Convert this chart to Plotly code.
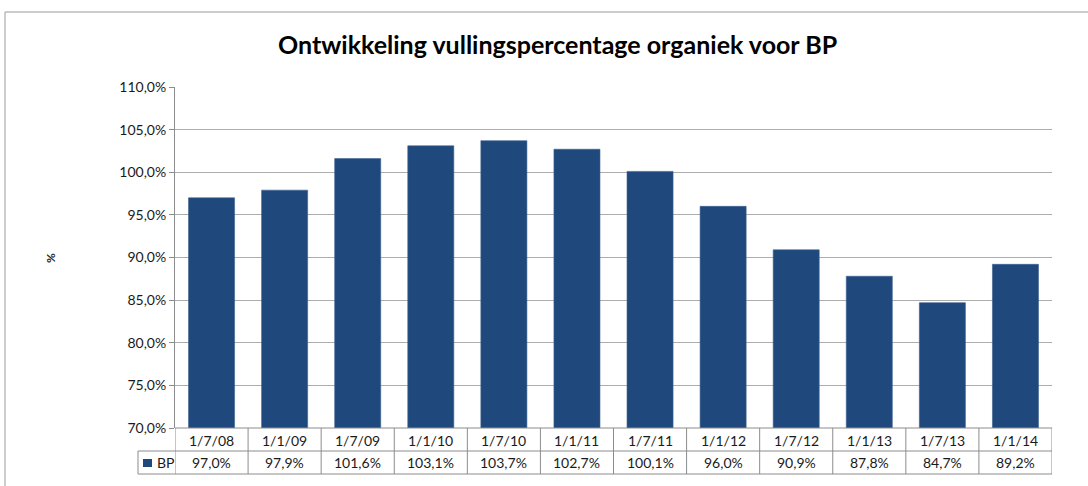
import plotly.graph_objects as go

categories = ["1/7/08", "1/1/09", "1/7/09", "1/1/10", "1/7/10", "1/1/11",
              "1/7/11", "1/1/12", "1/7/12", "1/1/13", "1/7/13", "1/1/14"]
bp_values = [97.0, 97.9, 101.6, 103.1, 103.7, 102.7, 100.1, 96.0, 90.9, 87.8, 84.7, 89.2]
series_name = "BP"
title_text = "Ontwikkeling vullingspercentage organiek voor BP"
y_title = "%"

FONT = "Lato"
BAR_COLOR = "#1F497D"
GRID = "#ADADAD"
BORDER = "#8C8C8C"
TXT = "#1a1a1a"

WIDTH, HEIGHT = 1088, 486
L, R, T, B = 175, 1052, 87, 428
PW, PH = R - L, B - T


def px(x):
    return (x - L) / PW


def py(y):
    return (B - y) / PH


fig = go.Figure()
fig.add_trace(go.Bar(
    x=categories, y=bp_values, name=series_name,
    marker=dict(color=BAR_COLOR, line=dict(color="#3A5F8E", width=0.6)),
    showlegend=False,
))

shapes = []
n = len(categories)
# outer chart border
shapes.append(dict(type="rect", xref="paper", yref="paper",
                   x0=px(5), x1=px(1095), y0=py(495), y1=py(12),
                   line=dict(color="#9A9A9A", width=1), fillcolor="rgba(0,0,0,0)", layer="below"))
# table horizontal lines
for yy, x_start in [(B, L), (451, 138), (474, 138)]:
    shapes.append(dict(type="line", xref="paper", yref="paper",
                       x0=px(x_start), x1=px(R), y0=py(yy), y1=py(yy),
                       line=dict(color=BORDER, width=1)))
# table vertical lines
for k in range(n + 1):
    shapes.append(dict(type="line", xref="x", yref="paper",
                       x0=k - 0.5, x1=k - 0.5, y0=py(B), y1=py(474),
                       line=dict(color=BORDER, width=1)))
shapes.append(dict(type="line", xref="paper", yref="paper",
                   x0=px(138), x1=px(138), y0=py(451), y1=py(474),
                   line=dict(color=BORDER, width=1)))
# legend key
shapes.append(dict(type="rect", xref="paper", yref="paper",
                   x0=px(143), x1=px(152), y0=py(467), y1=py(459),
                   fillcolor=BAR_COLOR, line=dict(width=0)))

annotations = []
for c, v in zip(categories, bp_values):
    annotations.append(dict(x=c, xref="x", y=py(440), yref="paper", text=c,
                            showarrow=False, font=dict(family=FONT, size=14, color=TXT),
                            xanchor="center", yanchor="middle"))
    annotations.append(dict(x=c, xref="x", y=py(463), yref="paper",
                            text=f"{v:.1f}%".replace(".", ","),
                            showarrow=False, font=dict(family=FONT, size=14, color=TXT),
                            xanchor="center", yanchor="middle"))
annotations.append(dict(x=px(155), xref="paper", y=py(463), yref="paper", text=series_name,
                        showarrow=False, font=dict(family=FONT, size=14, color=TXT),
                        xanchor="left", yanchor="middle"))
annotations.append(dict(x=px(50), xref="paper", y=py(258), yref="paper", text="<b>%s</b>" % y_title,
                        showarrow=False, textangle=-90, font=dict(family=FONT, size=12, color=TXT),
                        xanchor="center", yanchor="middle"))
annotations.append(dict(x=px(557), xref="paper", y=py(44), yref="paper", text="<b>%s</b>" % title_text,
                        showarrow=False, font=dict(family=FONT, size=25, color="#000000"),
                        xanchor="center", yanchor="middle"))

fig.update_layout(
    width=WIDTH, height=HEIGHT,
    margin=dict(l=L, r=WIDTH - R, t=T, b=HEIGHT - B),
    paper_bgcolor="white", plot_bgcolor="white",
    separators=",.",
    bargap=0.37,
    shapes=shapes, annotations=annotations,
    font=dict(family=FONT, size=14, color=TXT),
    xaxis=dict(type="category", showticklabels=False, showgrid=False,
               showline=False, ticks="", range=[-0.5, n - 0.5]),
    yaxis=dict(range=[70, 110], dtick=5, tick0=70, tickformat=".1f", ticksuffix="%",
               showgrid=True, gridcolor=GRID, gridwidth=1,
               showline=True, linecolor=BORDER, linewidth=1,
               ticks="outside", ticklen=5, tickcolor=BORDER,
               tickfont=dict(family=FONT, size=14, color=TXT),
               zeroline=False),
)

fig.write_html("out.html", config={"displayModeBar": False},
               post_script="document.body.style.margin='0px';document.body.style.padding='0px';")
